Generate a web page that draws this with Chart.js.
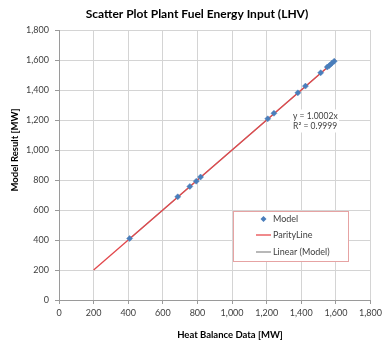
<!DOCTYPE html>
<html>
<head>
<meta charset="utf-8">
<script src="https://cdn.jsdelivr.net/npm/chart.js@4/dist/chart.umd.min.js"></script>
<style>
  html, body { margin: 0; padding: 0; background: #ffffff; }
  #wrap { width: 386px; height: 344px; position: relative; }
</style>
</head>
<body>
<div id="wrap"><canvas id="c" width="386" height="344"></canvas></div>
<script>
// Heat balance reference values vs. model output, both in MW
const heatBalance = [408, 686, 756, 793, 818, 1206, 1242, 1380, 1424, 1512, 1550, 1562, 1575, 1590];
const modelResult = [410, 688, 757, 792, 820, 1208, 1245, 1381, 1426, 1515, 1553, 1563, 1577, 1592];

// Parity line end points (y = x)
const parityEnds = [200, 1600];

// Linear trendline through the origin, as reported on the chart
const trendSlope = 1.0002;
const trendR2 = '0.9999';

// Axis ticks
const axisTicks = [0, 200, 400, 600, 800, 1000, 1200, 1400, 1600, 1800];

const chartTitle = 'Scatter Plot Plant Fuel Energy Input (LHV)';
const xTitle = 'Heat Balance Data [MW]';
const yTitle = 'Model Result [MW]';
const legendNames = ['Model', 'ParityLine', 'Linear (Model)'];

const FONT = 'Lato, "Open Sans", sans-serif';
const TEXT = '#404040';
const BLUE = '#4a7ebb';
const RED = '#e2474b';
const GREY = '#a6a6a6';

const modelPoints = heatBalance.map((x, i) => ({ x: x, y: modelResult[i] }));
const parityPoints = parityEnds.map(v => ({ x: v, y: v }));
const xMin = Math.min(...heatBalance), xMax = Math.max(...heatBalance);
const trendPoints = [xMin, xMax].map(x => ({ x: x, y: trendSlope * x }));

const fmt = v => Number(v).toLocaleString('en-US');

// Titles, trendline equation and boxed legend
const decorations = {
  id: 'decorations',
  afterDraw(chart) {
    const ctx = chart.ctx;
    const xs = chart.scales.x, ys = chart.scales.y;
    ctx.save();

    // chart title
    ctx.fillStyle = '#000';
    ctx.font = 'bold 12px ' + FONT;
    ctx.textAlign = 'center';
    ctx.textBaseline = 'middle';
    ctx.fillText(chartTitle, 197, 14);

    // axis titles
    ctx.font = 'bold 9.5px ' + FONT;
    ctx.fillText(xTitle, 230, 335);
    ctx.save();
    ctx.translate(15, 150);
    ctx.rotate(-Math.PI / 2);
    ctx.fillText(yTitle, 0, 0);
    ctx.restore();

    // trendline equation
    const ex = xs.getPixelForValue(1335), ey = ys.getPixelForValue(1270);
    ctx.fillStyle = '#ffffff';
    ctx.fillRect(ex, ey, 49, 23);
    ctx.fillStyle = TEXT;
    ctx.font = '8.5px ' + FONT;
    ctx.textAlign = 'left';
    ctx.fillText('y = ' + trendSlope.toFixed(4) + 'x', ex + 3, ey + 6.5);
    ctx.fillText('R\u00B2 = ' + trendR2, ex + 3, ey + 17);

    // legend box
    const lx = 233, ly = 211, lw = 115, lh = 50;
    ctx.fillStyle = '#ffffff';
    ctx.fillRect(lx, ly, lw, lh);
    ctx.strokeStyle = '#e6a3a3';
    ctx.lineWidth = 1;
    ctx.strokeRect(lx + 0.5, ly + 0.5, lw, lh);

    const rows = [219, 235, 252];
    ctx.font = '9px ' + FONT;
    ctx.fillStyle = TEXT;
    ctx.textBaseline = 'middle';
    legendNames.forEach((name, i) => ctx.fillText(name, 273, rows[i]));

    // marker for Model
    ctx.fillStyle = BLUE;
    ctx.beginPath();
    ctx.moveTo(263.5, rows[0] - 3);
    ctx.lineTo(266.5, rows[0]);
    ctx.lineTo(263.5, rows[0] + 3);
    ctx.lineTo(260.5, rows[0]);
    ctx.closePath();
    ctx.fill();

    // line samples
    ctx.lineWidth = 2;
    ctx.strokeStyle = '#f08a8c';
    ctx.beginPath(); ctx.moveTo(256, rows[1]); ctx.lineTo(271, rows[1]); ctx.stroke();
    ctx.strokeStyle = '#b8b8b8';
    ctx.beginPath(); ctx.moveTo(256, rows[2]); ctx.lineTo(271, rows[2]); ctx.stroke();

    ctx.restore();
  }
};

new Chart(document.getElementById('c'), {
  type: 'scatter',
  data: {
    datasets: [
      {
        label: legendNames[0],
        data: modelPoints,
        pointStyle: 'rectRot',
        pointRadius: 3,
        pointBackgroundColor: BLUE,
        pointBorderColor: BLUE,
        pointBorderWidth: 0.5,
        showLine: false,
        order: 0
      },
      {
        label: legendNames[1],
        data: parityPoints,
        showLine: true,
        borderColor: RED,
        borderWidth: 1.3,
        pointRadius: 0,
        order: 1
      },
      {
        label: legendNames[2],
        data: trendPoints,
        showLine: true,
        borderColor: GREY,
        borderWidth: 1.3,
        pointRadius: 0,
        order: 2
      }
    ]
  },
  options: {
    responsive: false,
    animation: false,
    devicePixelRatio: 1,
    layout: { padding: { top: 30, right: 11, left: 0, bottom: 0 } },
    plugins: {
      legend: { display: false },
      title: { display: false },
      tooltip: { enabled: false }
    },
    scales: {
      x: {
        type: 'linear',
        min: 0, max: 1800,
        afterBuildTicks: s => { s.ticks = axisTicks.map(v => ({ value: v })); },
        afterFit: s => { s.height = 44; },
        ticks: {
          callback: fmt,
          color: TEXT,
          font: { family: FONT, size: 9 },
          padding: 4,
          maxRotation: 0
        },
        grid: { color: '#d4d4d4', tickColor: '#9a9a9a', tickLength: 4, lineWidth: 1 },
        border: { color: '#9a9a9a' }
      },
      y: {
        type: 'linear',
        min: 0, max: 1800,
        afterBuildTicks: s => { s.ticks = axisTicks.map(v => ({ value: v })); },
        afterFit: s => { s.width = 59; },
        ticks: {
          callback: fmt,
          color: TEXT,
          font: { family: FONT, size: 9 },
          padding: 6
        },
        grid: { color: '#d4d4d4', tickColor: '#9a9a9a', tickLength: 4, lineWidth: 1 },
        border: { color: '#9a9a9a' }
      }
    }
  },
  plugins: [decorations]
});
</script>
</body>
</html>
